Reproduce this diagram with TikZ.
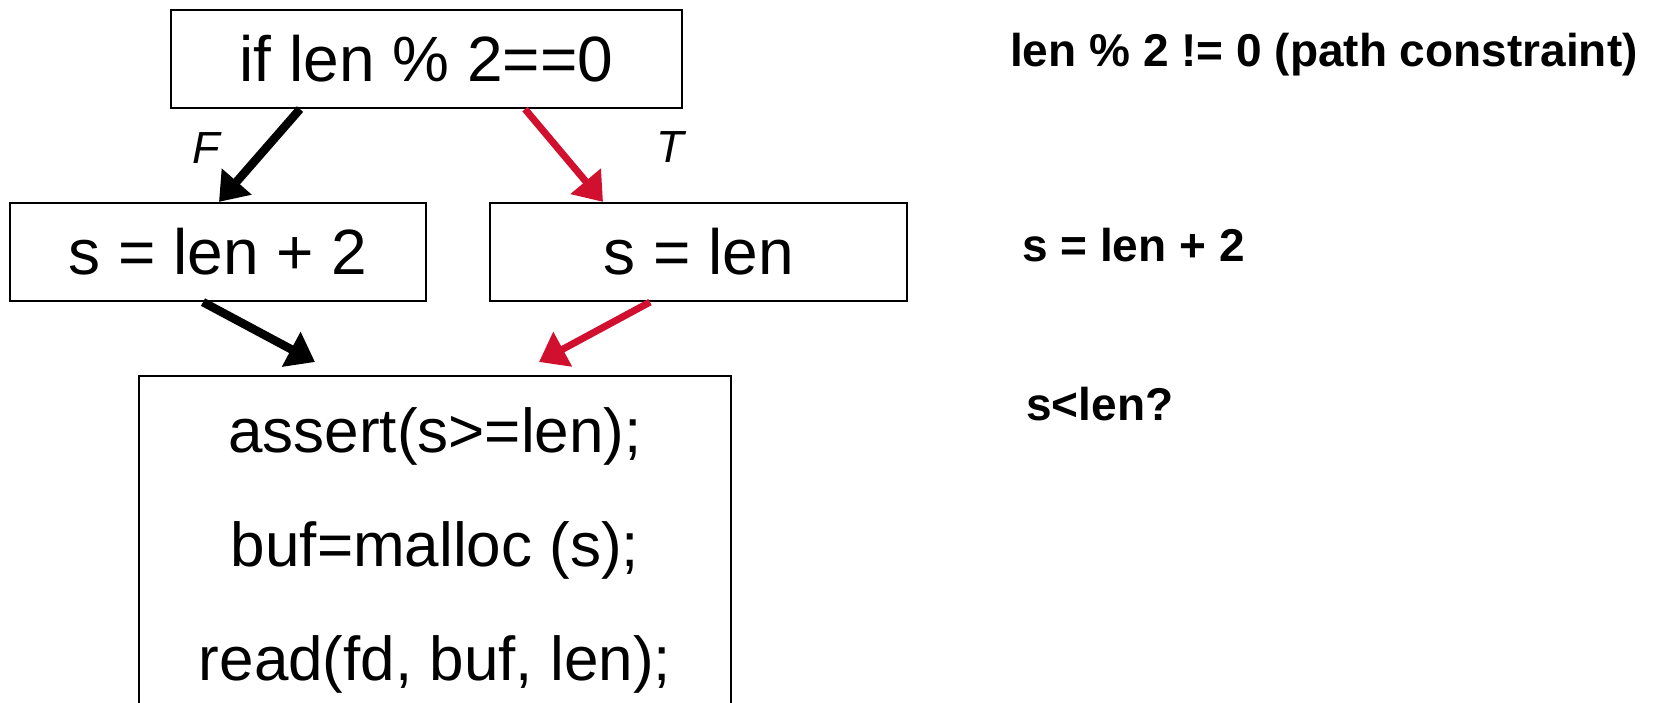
\documentclass[tikz,border=0pt]{standalone}
\usepackage{fontspec}
\setmainfont{Liberation Sans}
\usetikzlibrary{arrows.meta}
\definecolor{pathred}{RGB}{208,16,46}

\tikzset{
  block/.style={draw, line width=2.2pt, inner sep=0pt, font=\fontsize{64}{76}\selectfont},
  flow/.style={line width=8.5pt, -{Triangle[length=27pt,width=38pt]}},
  taken/.style={flow, pathred, line width=7pt},
  branch/.style={font=\fontsize{45}{54}\selectfont\itshape},
  note/.style={anchor=base west, inner sep=0pt, font=\fontsize{46}{55}\selectfont\bfseries},
}

\begin{document}
\begin{tikzpicture}[x=1pt, y=-1pt]
    \clip (0,0) rectangle (1679,702);

    % Blocks
    \node[block, minimum width=511pt, minimum height=98pt] (cond) at (426.5,59) {if len \% 2==0};
    \node[block, minimum width=416pt, minimum height=98pt] (elseb) at (218,252) {s = len + 2};
    \node[block, minimum width=417pt, minimum height=98pt] (thenb) at (698.5,252) {s = len};
    \node[block, anchor=north, minimum width=592pt, inner ysep=31pt, align=center,
          font=\fontsize{62}{114}\selectfont] (body) at (435,375)
          {assert(s>=len);\\buf=malloc (s);\\read(fd, buf, len);};

    % Edges
    \draw[flow] ([xshift=-126.5pt]cond.south) -- ([xshift=1pt]elseb.north);
    \draw[taken] ([xshift=98.5pt]cond.south) -- ([xshift=-95.5pt]thenb.north);
    \draw[flow] ([xshift=-15pt]elseb.south) -- ([xshift=-120pt,yshift=13pt]body.north);
    \draw[taken] ([xshift=-48.5pt]thenb.south) -- ([xshift=104pt,yshift=13pt]body.north);

    % Branch labels
    \node[branch] (flab) at (206,148) {F};
    \node[branch] (tlab) at (670,147) {T};

    % Constraints
    \node[note] (pc) at (1010,66) {len \% 2 != 0 (path constraint)};
    \node[note] (assign) at (1022,261) {s = len + 2};
    \node[note] (query) at (1026,420) {s<len?};
\end{tikzpicture}
\end{document}
